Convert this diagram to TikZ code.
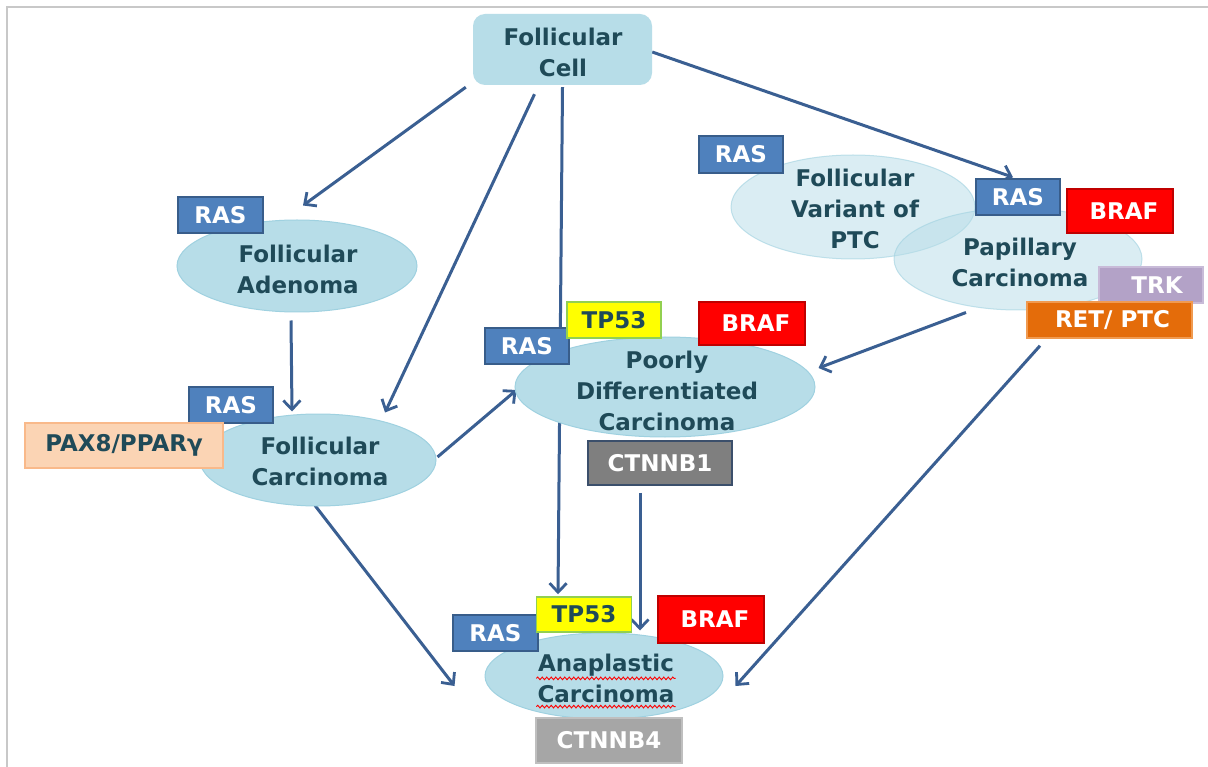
\documentclass[tikz,border=0pt]{standalone}
\usepackage{fontspec}
\setmainfont{DejaVu Sans}
\usetikzlibrary{shapes.geometric,arrows.meta,calc,decorations.pathmorphing,backgrounds}
\definecolor{ellfill}{HTML}{B7DDE8}
\definecolor{elldraw}{HTML}{9FD1E0}
\definecolor{txtc}{HTML}{1F4A58}
\definecolor{arrc}{HTML}{3A5F92}
\definecolor{rasfill}{HTML}{4F81BD}
\definecolor{rasdraw}{HTML}{385D8A}
\definecolor{tpfill}{HTML}{FFFF00}
\definecolor{tpdraw}{HTML}{92D050}
\definecolor{braffill}{HTML}{FF0000}
\definecolor{brafdraw}{HTML}{C00000}
\definecolor{ctafill}{HTML}{7F7F7F}
\definecolor{ctadraw}{HTML}{3B4F6B}
\definecolor{ctbfill}{HTML}{A6A6A6}
\definecolor{ctbdraw}{HTML}{BFBFBF}
\definecolor{trkfill}{HTML}{B3A2C7}
\definecolor{trkdraw}{HTML}{C8BBD8}
\definecolor{retfill}{HTML}{E46C0A}
\definecolor{retdraw}{HTML}{F09A50}
\definecolor{paxfill}{HTML}{FBD4B4}
\definecolor{paxdraw}{HTML}{F9B98A}
\definecolor{framec}{HTML}{C8C8C8}
\begin{document}
\begin{tikzpicture}[x=1pt,y=-1pt,
  bigfont/.style={font=\fontsize{23}{31}\selectfont\bfseries},
  txt/.style={bigfont, text=txtc, align=center, inner sep=0pt},
  ell/.style={ellipse, fill=ellfill, draw=elldraw, line width=1pt, inner sep=0pt},
  ellt/.style={ellipse, fill=ellfill, fill opacity=0.5, draw=elldraw, draw opacity=0.6, line width=1pt, inner sep=0pt},
  tag/.style={rectangle, bigfont, text=white, line width=1.5pt, inner sep=0pt},
  rastag/.style={tag, fill=rasfill, draw=rasdraw, minimum width=84pt, minimum height=36pt},
  tptag/.style={tag, fill=tpfill, draw=tpdraw, text=txtc, minimum width=95pt, minimum height=36pt},
  braftag/.style={tag, fill=braffill, draw=brafdraw, minimum width=106pt, minimum height=44pt},
  conn/.style={draw=arrc, line width=3pt, -{Straight Barb[length=9pt,width=17pt,line width=2.8pt]}}
]
\useasboundingbox (0,0) rectangle (1208,767);

% main nodes (shapes)
\node[rectangle, rounded corners=12pt, fill=ellfill, minimum width=179pt, minimum height=71pt] (fc) at (562.5,49.5) {};
\node[ell, minimum width=240pt, minimum height=92pt] (fa) at (297,266) {};
\node[ell, minimum width=236pt, minimum height=92pt] (fcar) at (318,460) {};
\node[ell, minimum width=300pt, minimum height=100pt] (pdc) at (665,387) {};
\node[ellt, minimum width=244pt, minimum height=104pt] (fv) at (853,207) {};
\node[ellt, minimum width=248pt, minimum height=102pt] (pap) at (1018,259) {};
\node[ell, minimum width=238pt, minimum height=86pt] (ana) at (604,676) {};

% tags
\node[rastag, minimum width=85pt] (rasA) at (220.5,215) {RAS};
\node[rastag] (rasC) at (231,405) {RAS};
\node[tag, fill=paxfill, draw=paxdraw, text=txtc, minimum width=198pt, minimum height=45pt] (pax) at (124,445.5) {PAX8/PPARγ};
\node[rastag] (rasP) at (527,346) {RAS};
\node[tptag, minimum width=94pt] (tpP) at (614,320) {TP53};
\node[braftag, minimum height=43pt] (brafP) at (752,323.5) {\hspace{8pt}BRAF};
\node[tag, fill=ctafill, draw=ctadraw, minimum width=144pt, minimum height=44pt] (cta) at (660,463) {CTNNB1};
\node[rastag, minimum height=37pt] (rasFV) at (741,154.5) {RAS};
\node[rastag] (rasPap) at (1018,197) {RAS};
\node[braftag] (brafPap) at (1120,211) {\hspace{8pt}BRAF};
\node[tag, fill=trkfill, draw=trkdraw, minimum width=104pt, minimum height=36pt] (trk) at (1151,285) {\hspace{12pt}TRK};
\node[tag, fill=retfill, draw=retdraw, minimum width=165pt, minimum height=36pt] (ret) at (1109.5,320) {\hspace{6pt}RET/ PTC};
\node[rastag, minimum width=85pt] (rasAna) at (495.5,633) {RAS};
\node[tptag, minimum height=35pt] (tpAna) at (584,614.5) {TP53};
\node[braftag, minimum height=47pt] (brafAna) at (711,619.5) {\hspace{8pt}BRAF};
\node[tag, fill=ctbfill, draw=ctbdraw, minimum width=146pt, minimum height=45pt] (ctb) at (609,740.5) {CTNNB4};

% texts
\node[txt] (fcT) at (563,52) {Follicular\\Cell};
\node[txt] (faT) at (298,269) {Follicular\\Adenoma};
\node[txt] (fcarT) at (320,461) {Follicular\\Carcinoma};
\node[txt] (pdcT) at (667,391) {Poorly\\Differentiated\\Carcinoma};
\node[txt] (fvT) at (855,209) {Follicular\\Variant of\\PTC};
\node[txt] (papT) at (1020,262) {Papillary\\Carcinoma};
\node[txt] (anaT) at (606,678) {Anaplastic\\Carcinoma};

% spell-check underline
\draw[red, line width=0.9pt, decorate, decoration={snake, amplitude=1.3pt, segment length=4.5pt}] ($(anaT.north west)+(-1,25)$) -- ($(anaT.north east)+(1,25)$);
\draw[red, line width=0.9pt, decorate, decoration={snake, amplitude=1.3pt, segment length=4.5pt}] ($(anaT.south west)+(-1,4)$) -- ($(anaT.south east)+(1,4)$);

% connectors (behind shapes)
\begin{scope}[on background layer]
\fill[white] (0,0) rectangle (1208,767);
\draw[framec, line width=2pt] (7,767) -- (7,7) -- (1208,7);
\draw[conn] ($(fc.south west)+(-7,2)$) -- ($(fa.north)+(6,-14)$);
\draw[conn] ($(fc.south)+(-28,9)$) -- ($(fcar.north)+(67,-1)$);
\draw[conn] ($(fc.south)+(0,2)$) -- ($(tpAna.north)+(-26,-2)$);
\draw[conn] ($(fc.east)+(0,2.5)$) -- ($(rasPap.north)+(-5,-1)$);
\draw[conn] ($(fa.south)+(-6,8)$) -- ($(fcar.north)+(-26,-2)$);
\draw[conn] ($(fcar.east)+(1,-3)$) -- ($(pdc.west)+(2,3)$);
\draw[conn] ($(fcar.south)+(-3,-1)$) -- ($(ana.west)+(-30,10)$);
\draw[conn] ($(pap.south)+(-52,2)$) -- ($(pdc.east)+(3,-19)$);
\draw[conn] ($(cta.south)+(-20,7)$) -- ($(ana.north)+(36,-2)$);
\draw[conn] ($(ret.south)+(-69.5,7)$) -- ($(ana.east)+(12,10)$);
\end{scope}
\end{tikzpicture}
\end{document}
